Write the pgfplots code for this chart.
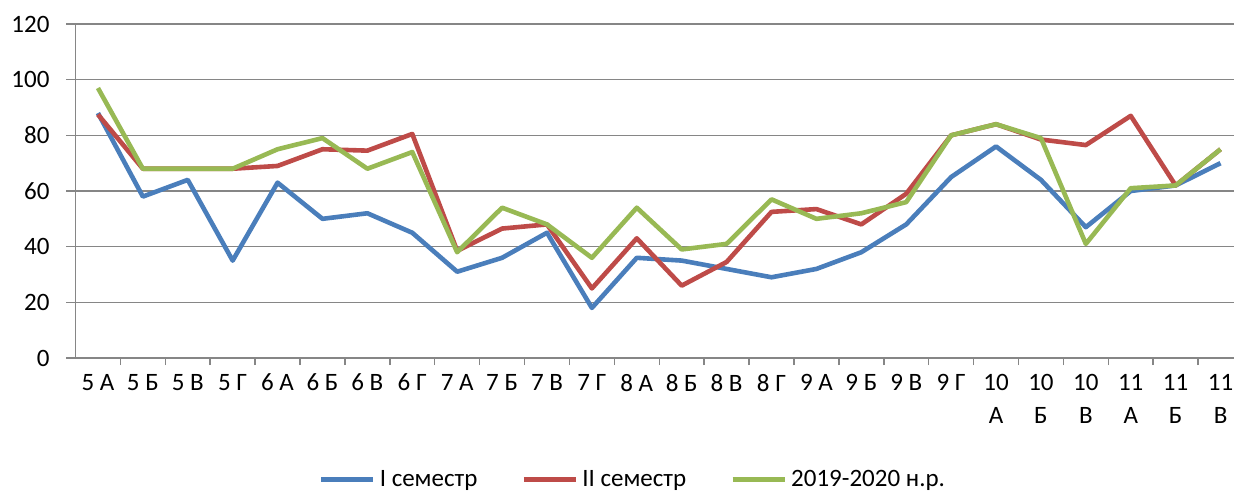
\documentclass[border=0pt]{standalone}
\usepackage{fontspec}
\setmainfont{Carlito}
\usepackage{pgfplots}
\usepackage{pgfplotstable}
\pgfplotsset{compat=1.18}

\definecolor{sblue}{HTML}{4A7EBB}
\definecolor{sred}{HTML}{BE4B48}
\definecolor{sgreen}{HTML}{98B954}
\definecolor{axgray}{HTML}{868686}

\newcommand{\lbl}{\fontsize{12.5pt}{16.8pt}\selectfont}

% x: class index, b: I semester, r: II semester, g: 2019-2020
\pgfplotstableread{
x b  r    g
0 88 87.5 97
1 58 68   68
2 64 68   68
3 35 68   68
4 63 69   75
5 50 75   79
6 52 74.5 68
7 45 80.5 74
8 31 38.5 38
9 36 46.5 54
10 45 48  48
11 18 25  36
12 36 43  54
13 35 26  39
14 32 34.5 41
15 29 52.5 57
16 32 53.5 50
17 38 48  52
18 48 59  56
19 65 80  80
20 76 84  84
21 64 78.5 79
22 47 76.5 41
23 60 87  61
24 62 62  62
25 70 75  75
}\marks

\begin{document}
\begin{tikzpicture}
\useasboundingbox (-37.75pt,-67pt) rectangle (579.25pt,179pt);
\begin{axis}[
    scale only axis,
    width=579.25pt,
    height=167pt,
    xmin=-0.5, xmax=25.3,
    ymin=0, ymax=120,
    ytick={0,20,...,120},
    xtick={0,...,25},
    xticklabels={{5 А},{5 Б},{5 В},{5 Г},{6 А},{6 Б},{6 В},{6 Г},
                 {7 А},{7 Б},{7 В},{7 Г},{8 А},{8 Б},{8 В},{8 Г},
                 {9 А},{9 Б},{9 В},{9 Г},{10\\А},{10\\Б},{10\\В},
                 {11\\А},{11\\Б},{11\\В}},
    minor xtick={0.5,1.5,...,24.5},
    every major x tick/.append style={draw=none},
    major tick length=4.5pt,
    minor tick length=3.5pt,
    tick align=outside,
    tick style={axgray, line width=0.75pt},
    axis x line*=bottom,
    axis y line*=left,
    axis line style={axgray, line width=0.75pt},
    ymajorgrids,
    grid style={axgray, line width=0.75pt},
    /pgf/number format/assume math mode=true,
    tick label style={font=\lbl, text=black},
    xticklabel style={align=center},
    yticklabel style={xshift=-5pt},
    legend columns=3,
    legend style={draw=none, font=\lbl, at={(0.482,-0.365)}, anchor=center,
        inner sep=0pt},
    legend image code/.code={\draw[#1, line width=2.5pt] (0pt,0pt) -- (26pt,0pt);},
]
\addplot[sblue, line width=2.3pt, line join=round] table[x=x, y=b] {\marks};
\addlegendentry{I семестр\rule{20pt}{0pt}}
\addplot[sred, line width=2.3pt, line join=round] table[x=x, y=r] {\marks};
\addlegendentry{II семестр\rule{20pt}{0pt}}
\addplot[sgreen, line width=2.3pt, line join=round] table[x=x, y=g] {\marks};
\addlegendentry{2019-2020 н.р.}
\end{axis}
\end{tikzpicture}
\end{document}
